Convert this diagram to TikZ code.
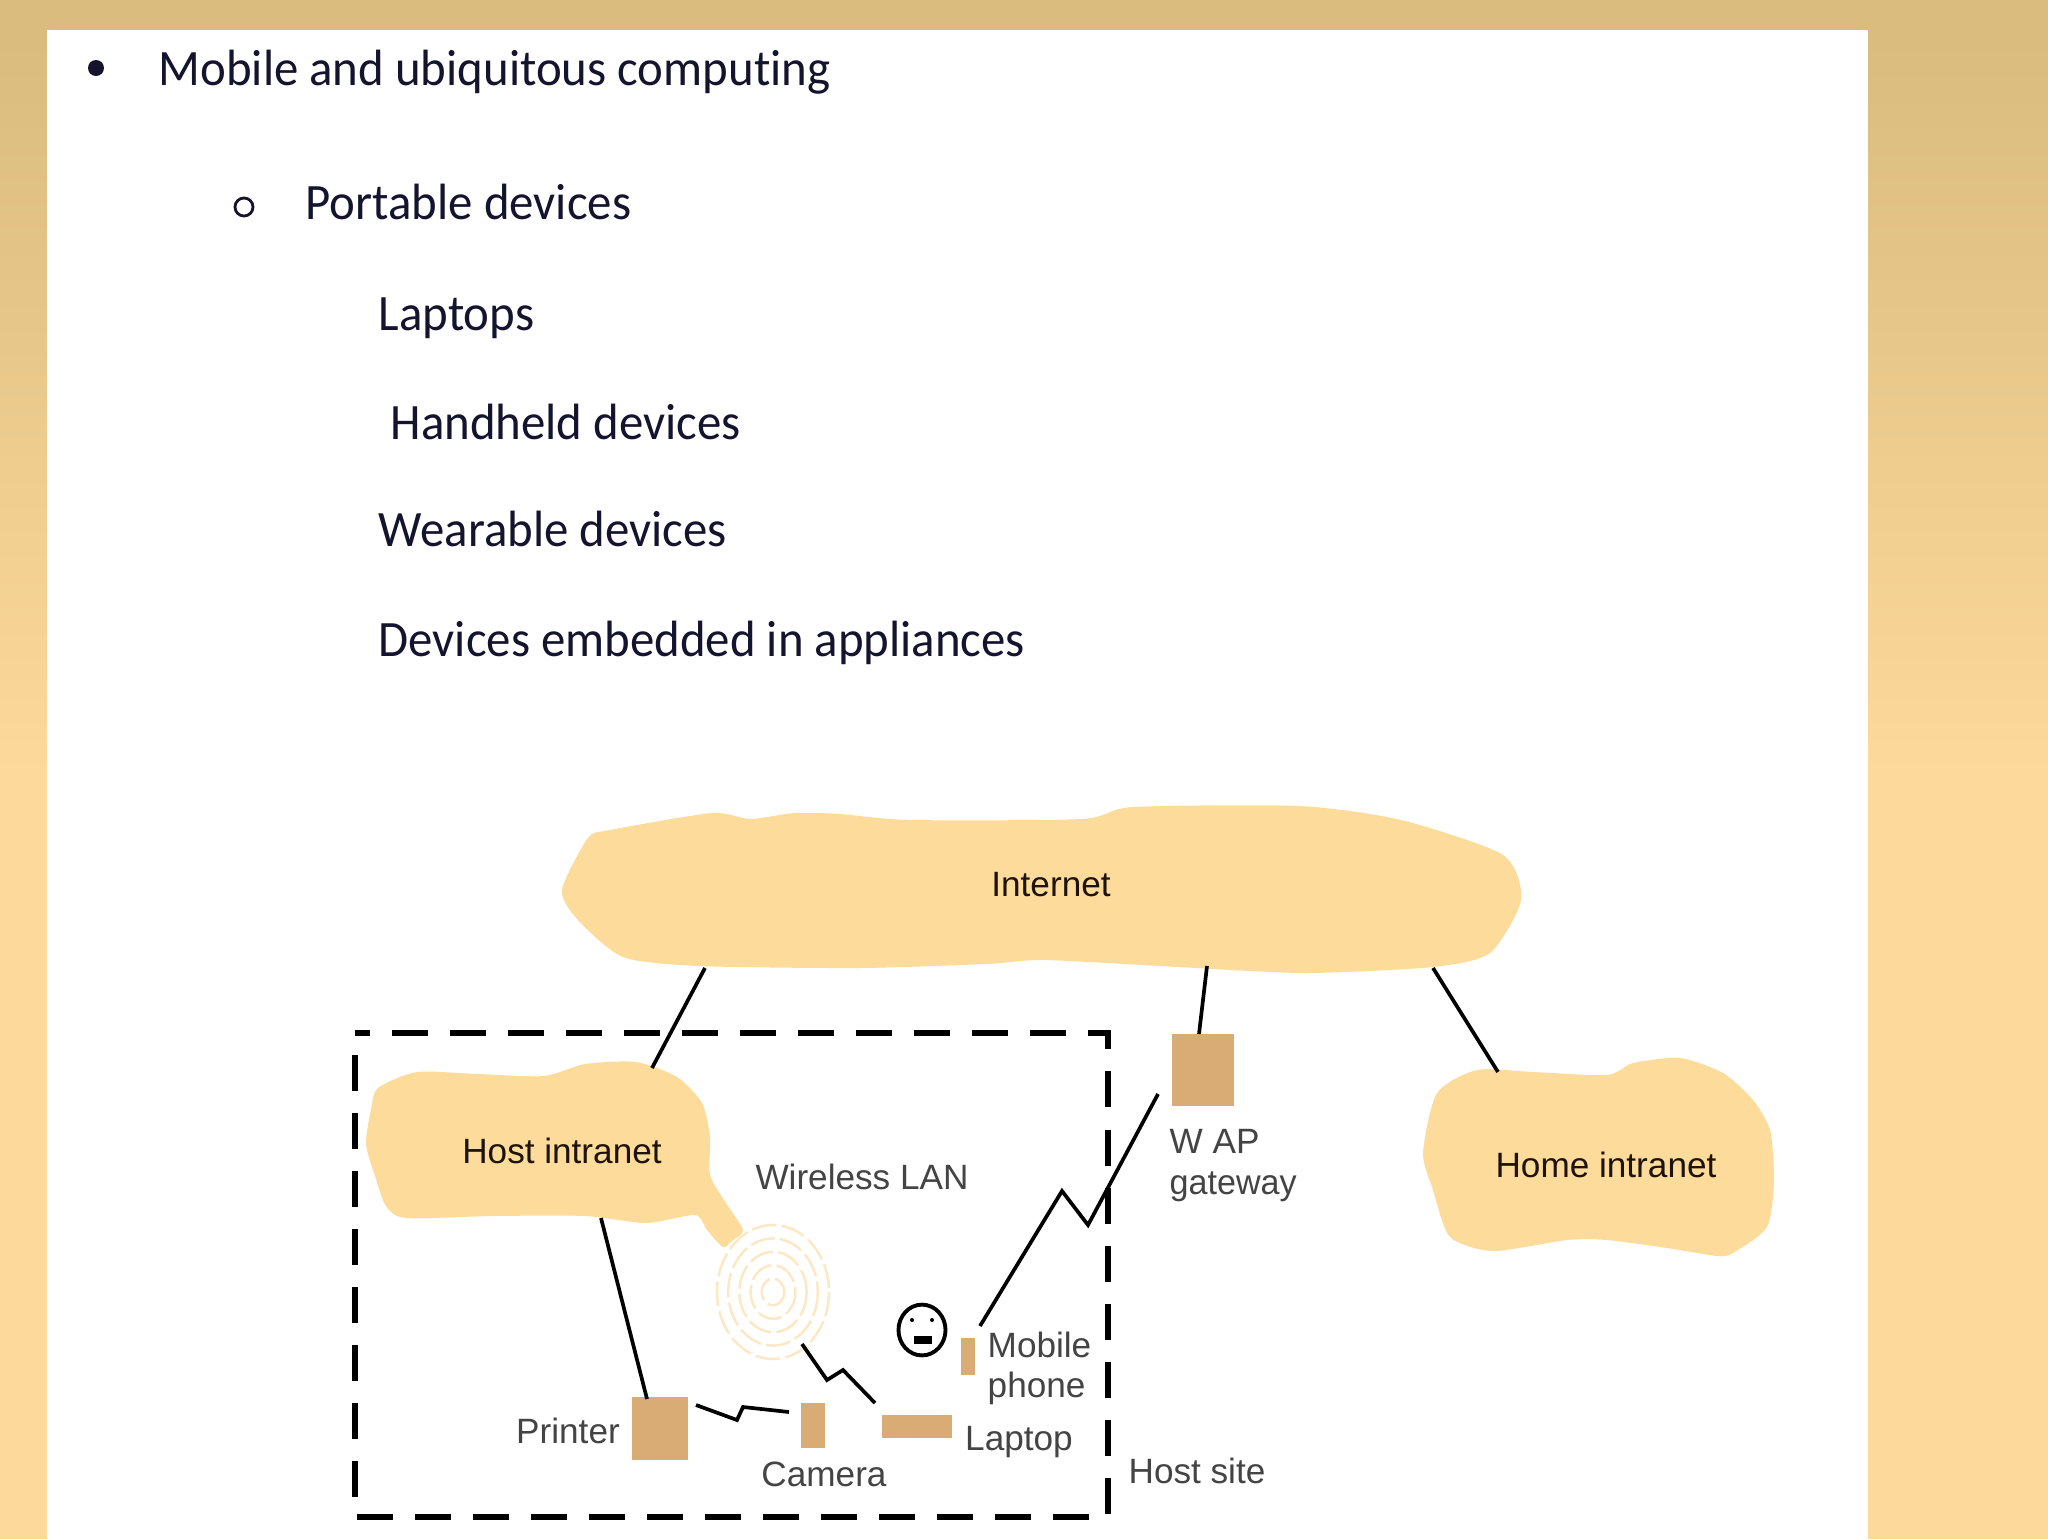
\documentclass[tikz,border=0pt]{standalone}
\usepackage{fontspec}
\setmainfont{Liberation Sans}
\newfontfamily\slidefont[Ligatures=NoCommon]{Carlito}
\usetikzlibrary{positioning}

\definecolor{topcol}{HTML}{D9BC7E}
\definecolor{lowcol}{HTML}{FDD99B}
\definecolor{cloudcol}{HTML}{FDDB9B}
\definecolor{boxcol}{HTML}{D9AB75}
\definecolor{ringcol}{HTML}{FCE8C4}
\definecolor{inkcol}{HTML}{14142E}
\definecolor{labelcol}{HTML}{444444}

\tikzset{
	slidetext/.style = {anchor = base west, inner sep = 0, text = inkcol, xscale = 0.958, font = \slidefont\fontsize{14.5}{16}\selectfont},
	cloudlabel/.style = {inner sep = 0, text = black!85!brown, font = \fontsize{10}{12}\selectfont},
	devlabel/.style = {inner sep = 0, text = labelcol, font = \fontsize{10}{12}\selectfont},
	device/.style = {fill = boxcol, inner sep = 0},
	link/.style = {line width = 1.05pt, black},
	cloud/.style = {fill = cloudcol, smooth cycle, tension = 0.42}
}

\begin{document}
\begin{tikzpicture}[x = 0.01cm, y = -0.01cm]
	\useasboundingbox (0,0) rectangle (2048,1539);

	% slide background
	\fill[lowcol] (0,0) rectangle (2048,1539);
	\shade[top color = topcol, bottom color = lowcol] (0,40) rectangle (2048,772);
	\fill[topcol] (0,0) rectangle (2048,40);
	\fill[white] (47,30) rectangle (1868,1539);

	% text of the slide
	\fill[inkcol] (96,68) circle [radius = 8];
	\draw[inkcol, line width = 0.8pt] (244,207) circle [radius = 9];
	\node[slidetext] (mobile) at (158,85) {Mobile and ubiquitous computing};
	\node[slidetext] (portable) at (305,219) {Portable devices};
	\node[slidetext] (laptops) at (378,330) {Laptops};
	\node[slidetext] (handheld) at (390,439) {Handheld devices};
	\node[slidetext] (wearable) at (378,546) {Wearable devices};
	\node[slidetext] (embedded) at (378,656) {Devices embedded in appliances};

	% clouds
	\fill[cloud] plot coordinates {(562,890) (588,838) (610,830) (712,813) (750,819) (795,813) (840,814) (910,820) (1082,819) (1133,807) (1299,806) (1401,820) (1503,855) (1521,900) (1490,953) (1433,967) (1305,973) (1178,967) (1044,960) (986,964) (859,968) (699,966) (623,957) (578,920)};
	\fill[cloud] plot coordinates {(378,1088) (417,1072) (478,1074) (544,1076) (585,1064) (636,1062) (677,1077) (702,1103) (710,1137) (710,1175) (726,1203) (743,1230) (733,1240) (723,1247) (707,1230) (695,1215) (646,1223) (585,1216) (493,1216) (406,1218) (386,1206) (376,1179) (366,1144) (371,1110)};
	\fill[cloud] plot coordinates {(1423,1153) (1437,1093) (1477,1070) (1533,1072) (1607,1075) (1633,1063) (1680,1058) (1723,1073) (1753,1100) (1770,1130) (1774,1180) (1767,1227) (1733,1253) (1717,1256) (1667,1248) (1607,1240) (1567,1240) (1493,1251) (1450,1237) (1433,1190)};

	\node[cloudlabel] (internet) at (1051,885) {Internet};
	\node[cloudlabel] (hostnet) at (562,1151) {Host intranet};
	\node[cloudlabel] (homenet) at (1606,1165) {Home intranet};

	% wireless rings
	\foreach \r in {1, 0.8, 0.6, 0.4, 0.2} {
		\draw[ringcol, line width = 0.7pt, dash pattern = on 7pt off 1.5pt] (773,1292) circle [x radius = 56*\r, y radius = 67*\r];
	}
	\coordinate (wlan) at (802,1344);

	% devices
	\node[device, minimum width = 0.55cm, minimum height = 0.63cm] (printer) at (660,1428) {};
	\node[device, minimum width = 0.24cm, minimum height = 0.45cm] (camera) at (813,1425) {};
	\node[device, minimum width = 0.70cm, minimum height = 0.23cm] (laptop) at (917,1426) {};
	\node[device, minimum width = 0.14cm, minimum height = 0.37cm] (phone) at (968,1356) {};
	\node[device, minimum width = 0.62cm, minimum height = 0.72cm] (wap) at (1203,1070) {};

	% user
	\node[draw, circle, line width = 1.1pt, inner sep = 0, minimum size = 0.47cm, yscale = 1.08] (user) at (922,1330) {};
	\fill (912,1320) circle [radius = 2];
	\fill (932,1320) circle [radius = 2];
	\fill (914,1336) rectangle (932,1344);

	% ends of the links
	\coordinate (internet a) at (705,968);
	\coordinate (internet b) at (1207,966);
	\coordinate (internet c) at (1433,968);
	\coordinate (hostnet a) at (652,1068);
	\coordinate (hostnet b) at (601,1218);
	\coordinate (homenet a) at (1498,1072);
	\coordinate (wap a) at (1199,1034);
	\coordinate (wap b) at (1158,1094);
	\coordinate (printer a) at (647,1399);
	\coordinate (printer b) at (696,1405);
	\coordinate (camera a) at (789,1412);
	\coordinate (laptop a) at (875,1403);
	\coordinate (phone a) at (980,1326);

	\draw[link] (internet a) -- (hostnet a);
	\draw[link] (internet b) -- (wap a);
	\draw[link] (internet c) -- (homenet a);
	\draw[link] (hostnet b) -- (printer a);
	\draw[link] (printer b) -- (737,1420) -- (743,1407) -- (camera a);
	\draw[link] (wlan) -- (827,1380) -- (843,1370) -- (laptop a);
	\draw[link] (phone a) -- (1062,1191) -- (1088,1225) -- (wap b);

	% host site
	\draw[line width = 1.8pt, dash pattern = on 0.36cm off 0.22cm, dash phase = 0.21cm] (355,1033) -- (1108,1033) -- (1108,1517) -- (355,1517) -- cycle;

	% labels
	\node[devlabel] (wlanlabel) at (862,1177) {Wireless LAN};
	\node[devlabel, anchor = base west] (waplabel) at (1169,1153) {W AP};
	\node[devlabel, anchor = base west, xscale = 0.97] (gatelabel) at (1169,1194) {gateway};
	\node[devlabel, anchor = base west] (moblabel) at (987,1357) {Mobile};
	\node[devlabel, anchor = base west] (phonelabel) at (987,1397) {phone};
	\node[devlabel] (printerlabel) at (568,1431) {Printer};
	\node[devlabel] (cameralabel) at (824,1474) {Camera};
	\node[devlabel] (laptoplabel) at (1019,1442) {Laptop};
	\node[devlabel] (sitelabel) at (1197,1471) {Host site};
\end{tikzpicture}
\end{document}
